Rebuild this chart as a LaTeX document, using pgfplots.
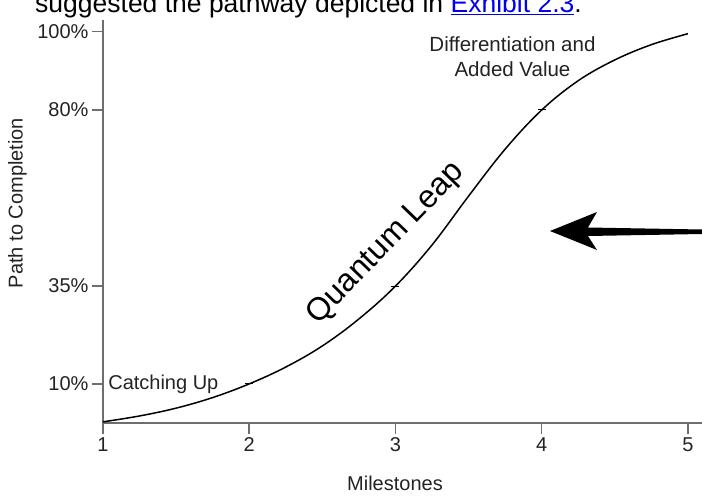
\documentclass[border=0pt]{standalone}
\usepackage{pgfplots}
\pgfplotsset{compat=1.18}
\usepackage{fontspec}
\setmainfont{Liberation Sans}
\definecolor{axisgray}{RGB}{110,110,110}
\definecolor{txt}{RGB}{35,35,35}
\definecolor{linkblue}{RGB}{0,0,238}
\begin{document}
\begin{tikzpicture}
\begin{axis}[
  at={(0,0)}, anchor=south west,
  scale only axis,
  width=599pt, height=403pt,
  xmin=1, xmax=5.096, ymin=0, ymax=103,
  axis x line*=bottom, axis y line*=left,
  axis line style={axisgray, line width=1.7pt},
  xtick={1,2,3,4,5}, xticklabels={1,2,3,4,5},
  ytick={10,35,80,100}, yticklabels={10\%,35\%,80\%,100\%},
  tick align=outside, major tick length=11pt,
  tick style={axisgray, line width=1.5pt},
  tick label style={font=\fontsize{20}{24}\selectfont, text=txt},
  /pgf/number format/assume math mode=true,
  clip=false,
]
\addplot[black, line width=1.5pt, smooth, tension=0.6] coordinates {
(1,0.3) (1.25,1.8) (1.5,3.8) (1.75,6.5) (2,10) (2.25,14.3) (2.5,19.7)
(2.75,26.6) (3,35) (3.25,45.5) (3.5,58) (3.75,70) (4,80)
(4.25,87.5) (4.5,92.8) (4.75,96.7) (5,99.5)};
\addplot[only marks, mark=-, mark size=4pt, black, line width=1pt] coordinates {
(2,10) (3,35) (4,80)};
\node[anchor=west, text=txt, font=\fontsize{20}{24}\selectfont, inner sep=0pt] at (axis cs:1.035,10) {Catching Up};
\node[rotate=46, font=\fontsize{32}{38}\selectfont, inner sep=0pt] at (axis cs:2.935,45.8) {Quantum Leap};
\node[align=center, text=txt, font=\fontsize{20.5}{24.5}\selectfont, inner sep=0pt] at (axis cs:3.80,93.6) {Differentiation and\\Added Value};
\end{axis}
% arrow
\fill[black] (447pt,192pt) -- (494pt,211pt) -- (485pt,195.5pt) -- (599pt,193.5pt)
  -- (599pt,189pt) -- (485pt,187pt) -- (494pt,173pt) -- cycle;
% labels
\node[rotate=90, text=txt, font=\fontsize{20}{24}\selectfont, inner sep=0pt] at (-85.5pt,220pt) {Path to Completion};
\node[anchor=base, text=txt, font=\fontsize{20}{24}\selectfont, inner sep=0pt] at (292pt,-67pt) {Milestones};
% cut-off text at top
\node[anchor=base west, inner sep=0pt, font=\fontsize{26.5}{30}\selectfont] at (-68pt,410.5pt) {suggested the pathway depicted in \textcolor{linkblue}{\underline{Exhibit 2.3}}.};
\pgfresetboundingbox
\useasboundingbox (-103pt,-76pt) rectangle (599pt,423pt);
\end{tikzpicture}
\end{document}
